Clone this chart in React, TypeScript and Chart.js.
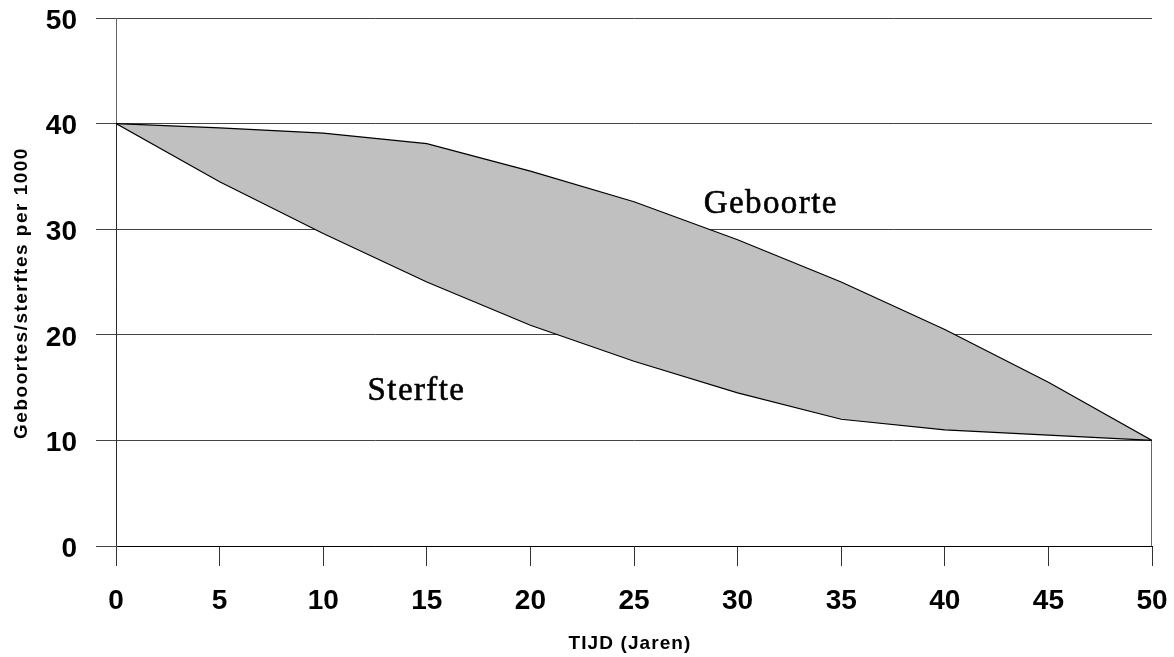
import React, { useEffect, useRef } from "react";
import { Chart, registerables } from "chart.js";

Chart.register(...registerables);

// ---- data ----
const years = [0, 5, 10, 15, 20, 25, 30, 35, 40, 45, 50];
const geboorte = [40, 39.6, 39.1, 38.1, 35.5, 32.6, 29.0, 25.0, 20.5, 15.5, 10];
const sterfte = [40, 34.5, 29.6, 25.0, 20.9, 17.5, 14.5, 12.0, 11.0, 10.5, 10];
const xTicks = [0, 5, 10, 15, 20, 25, 30, 35, 40, 45, 50];
const yTicks = [0, 10, 20, 30, 40, 50];
const xTitle = "TIJD (Jaren)";
const yTitle = "Geboortes/sterftes per 1000";
const labelGeboorte = "Geboorte";
const labelSterfte = "Sterfte";

const tickFont = { family: "'Liberation Sans', Arial, sans-serif", size: 28, weight: "bold" as const };

const textPlugin = {
  id: "textPlugin",
  afterDraw(chart: any) {
    const { ctx, chartArea, scales } = chart;
    const xs = scales.x;
    const ys = scales.y;
    ctx.save();
    // series labels
    ctx.fillStyle = "#000";
    ctx.font = "33px 'Liberation Serif', 'Times New Roman', serif";
    (ctx as any).letterSpacing = "1.4px";
    ctx.textAlign = "center";
    ctx.textBaseline = "alphabetic";
    ctx.lineWidth = 0.6;
    ctx.strokeStyle = "#000";
    const gx = xs.getPixelForValue(31.6);
    const gy = ys.getPixelForValue(31.55);
    const sx = xs.getPixelForValue(14.5);
    const sy = ys.getPixelForValue(13.84);
    ctx.fillText(labelGeboorte, gx, gy);
    ctx.strokeText(labelGeboorte, gx, gy);
    ctx.fillText(labelSterfte, sx, sy);
    ctx.strokeText(labelSterfte, sx, sy);

    // axis titles
    ctx.font = "bold 19px 'Liberation Sans', Arial, sans-serif";
    (ctx as any).letterSpacing = "1.1px";
    ctx.textAlign = "center";
    ctx.textBaseline = "alphabetic";
    ctx.fillText(xTitle, (chartArea.left + chartArea.right) / 2 - 4, chartArea.bottom + 103);

    (ctx as any).letterSpacing = "1.5px";
    ctx.translate(chartArea.left - 94, (chartArea.top + chartArea.bottom) / 2 + 11);
    ctx.rotate(-Math.PI / 2);
    ctx.textBaseline = "middle";
    ctx.fillText(yTitle, 0, 0);
    ctx.restore();
  },
};

export default function App() {
  const ref = useRef<HTMLCanvasElement | null>(null);

  useEffect(() => {
    document.body.style.margin = "0";
    if (!ref.current) return;
    const chart = new Chart(ref.current, {
      type: "line",
      data: {
        datasets: [
          {
            label: "Sterfte",
            data: years.map((x, i) => ({ x, y: sterfte[i] })),
            borderColor: "#000",
            borderWidth: 1.2,
            pointRadius: 0,
            fill: false,
            tension: 0,
          },
          {
            label: "Geboorte",
            data: years.map((x, i) => ({ x, y: geboorte[i] })),
            borderColor: "#000",
            borderWidth: 1.2,
            backgroundColor: "#c0c0c0",
            pointRadius: 0,
            fill: 0,
            tension: 0,
          },
          {
            label: "edgeLeft",
            data: [
              { x: years[0], y: 0 },
              { x: years[0], y: sterfte[0] },
            ],
            borderColor: "#000",
            borderWidth: 1.2,
            pointRadius: 0,
            fill: false,
          },
          {
            label: "edgeRight",
            data: [
              { x: years[years.length - 1], y: 0 },
              { x: years[years.length - 1], y: sterfte[sterfte.length - 1] },
            ],
            borderColor: "#000",
            borderWidth: 1.2,
            pointRadius: 0,
            fill: false,
          },
        ],
      },
      options: {
        responsive: false,
        maintainAspectRatio: false,
        animation: false,
        layout: { padding: 0 },
        plugins: {
          legend: { display: false },
          tooltip: { enabled: false },
        },
        scales: {
          x: {
            type: "linear",
            min: 0,
            max: 50,
            afterBuildTicks: (scale: any) => {
              scale.ticks = xTicks.map((v) => ({ value: v }));
            },
            afterFit: (scale: any) => {
              scale.height = 111;
              scale.paddingLeft = 0;
              scale.paddingRight = 22;
            },
            ticks: {
              font: tickFont,
              color: "#000",
              padding: 18,
              maxRotation: 0,
              autoSkip: false,
            },
            grid: {
              drawOnChartArea: false,
              drawTicks: true,
              tickLength: 20,
              color: "#333",
              lineWidth: 1,
            },
            border: { display: true, color: "#000", width: 1 },
          },
          y: {
            type: "linear",
            min: 0,
            max: 50,
            afterBuildTicks: (scale: any) => {
              scale.ticks = yTicks.map((v) => ({ value: v }));
            },
            afterFit: (scale: any) => {
              scale.width = 116;
              scale.paddingTop = 18;
              scale.paddingBottom = 0;
            },
            ticks: {
              font: tickFont,
              color: "#000",
              padding: 19,
              labelOffset: 3,
            },
            grid: {
              drawOnChartArea: true,
              drawTicks: true,
              tickLength: 20,
              color: "#444",
              lineWidth: 1,
            },
            border: { display: true, color: "#666", width: 1 },
          },
        },
      },
      plugins: [textPlugin],
    });
    return () => chart.destroy();
  }, []);

  return (
    <div style={{ width: 1174, height: 657 }}>
      <canvas ref={ref} width={1174} height={657} style={{ display: "block" }} />
    </div>
  );
}
